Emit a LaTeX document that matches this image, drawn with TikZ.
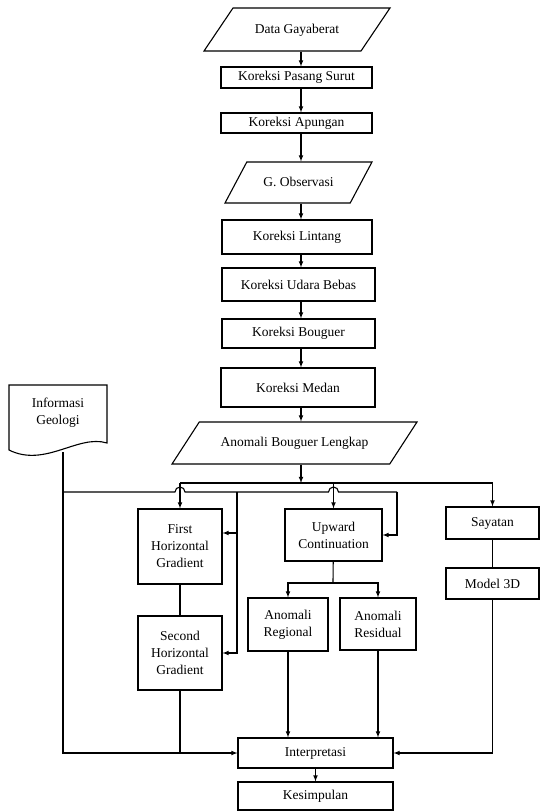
\documentclass[tikz,border=0pt]{standalone}
\usepackage{fontspec}
\setmainfont{Liberation Serif}
\usetikzlibrary{shapes.geometric,arrows}

\begin{document}
\begin{tikzpicture}[x=1pt,y=-1pt,line width=1.1pt,
    font=\fontsize{13.5}{17}\selectfont,
    box/.style={draw,rectangle,inner sep=1pt,align=center},
    io/.style={draw,trapezium,trapezium stretches body,inner xsep=1pt,text height=10pt,text depth=3pt}]
          \useasboundingbox (0,0) rectangle (541,812);

          \node[io,trapezium left angle=56,trapezium right angle=124,minimum width=186,inner ysep=15pt] (data) at (297,29.5) {Data Gayaberat};
          \node[box,minimum width=151,minimum height=21] (kps) at (296.5,77.5) {Koreksi Pasang Surut};
          \node[box,minimum width=151,minimum height=20] (ka) at (296.5,123) {Koreksi Apungan};
          \node[io,trapezium left angle=62,trapezium right angle=118,minimum width=147,inner ysep=14pt] (gobs) at (298.5,182.5) {G. Observasi};
          \node[box,minimum width=150,minimum height=34] (kl) at (297,237) {Koreksi Lintang};
          \node[box,minimum width=153,minimum height=33] (kub) at (298.5,284.5) {Koreksi Udara Bebas};
          \node[box,minimum width=153,minimum height=29] (kb) at (298.5,333.5) {Koreksi Bouguer};
          \node[box,minimum width=154,minimum height=39] (km) at (298,387.5) {Koreksi Medan};
          \node[io,trapezium left angle=57,trapezium right angle=123,minimum width=245,inner ysep=14.5pt] (abl) at (294.5,443) {Anomali Bouguer Lengkap};

          \node[align=center] (geo) at (58,413) {Informasi\\Geologi};
          \draw (9,385) -- (107,385) -- (107,443) .. controls (78,434) and (45,468) .. (9,450) -- cycle;

          \node[box,minimum width=84,minimum height=75] (fhg) at (180,546.5) {First\\Horizontal\\Gradient};
          \node[box,minimum width=84,minimum height=74] (shg) at (180,653) {Second\\Horizontal\\Gradient};
          \node[box,minimum width=97,minimum height=52] (uc) at (333.5,535) {Upward\\Continuation};
          \node[box,minimum width=80,minimum height=53] (ar) at (288,624.5) {Anomali\\Regional};
          \node[box,minimum width=76,minimum height=52] (ares) at (378,624) {Anomali\\Residual};
          \node[box,minimum width=93,minimum height=32] (say) at (492.5,523) {Sayatan};
          \node[box,minimum width=93,minimum height=31] (mdl) at (492.5,583.5) {Model 3D};
          \node[box,minimum width=155,minimum height=30] (int) at (315.5,753) {Interpretasi};
          \node[box,minimum width=155,minimum height=28] (kes) at (315.5,796) {Kesimpulan};

          \coordinate (ax) at (301,0);
          \coordinate (bus) at (301,483);
          \coordinate (low) at (63,492);
          \coordinate (geobot) at (63,452);
          \coordinate (brA) at (237,492);
          \coordinate (tapA) at (237,533);
          \coordinate (brB) at (397,492);
          \coordinate (split) at (333,583);

          \draw[-latex] (data.south -| ax) -- (kps.north -| ax);
          \draw[-latex] (kps.south -| ax) -- (ka.north -| ax);
          \draw[-latex] (ka.south -| ax) -- (gobs.north -| ax);
          \draw[-latex] (gobs.south -| ax) -- (kl.north -| ax);
          \draw[-latex] (kl.south -| ax) -- (kub.north -| ax);
          \draw[-latex] (kub.south -| ax) -- (kb.north -| ax);
          \draw[-latex] (kb.south -| ax) -- (km.north -| ax);
          \draw[-latex] (km.south -| ax) -- (abl.north -| ax);
          \draw[-latex] (abl.south -| ax) -- (bus);

          \draw (bus -| fhg) -- (bus -| say);
          \draw[-latex] (bus -| fhg) -- (fhg);
          \draw[-latex] (bus -| uc) -- (uc);
          \draw[-latex] (bus -| say) -- (say);

          \draw (low) -- ([xshift=-5]low -| fhg) arc[start angle=180,end angle=360,radius=5]
                -- ([xshift=-5]low -| uc) arc[start angle=180,end angle=360,radius=5] -- (brB);
          \draw[-latex] (brA) |- (shg.east);
          \draw[-latex] (tapA) -- (tapA -| fhg.east);
          \draw[-latex] (brB) |- (uc.east);

          \draw[-latex] (geobot) |- (int.west);
          \draw (fhg) -- (shg);
          \draw (shg) -- (shg |- int.west);

          \draw (uc) -- (split);
          \draw[-latex] (split) -| (ar);
          \draw[-latex] (split) -| (ares);
          \draw[-latex] (ar) -- (ar |- int.north);
          \draw[-latex] (ares) -- (ares |- int.north);

          \draw (say) -- (mdl);
          \draw[-latex] (mdl) |- (int.east);
          \draw[-latex] (int) -- (kes);

      \end{tikzpicture}
\end{document}
